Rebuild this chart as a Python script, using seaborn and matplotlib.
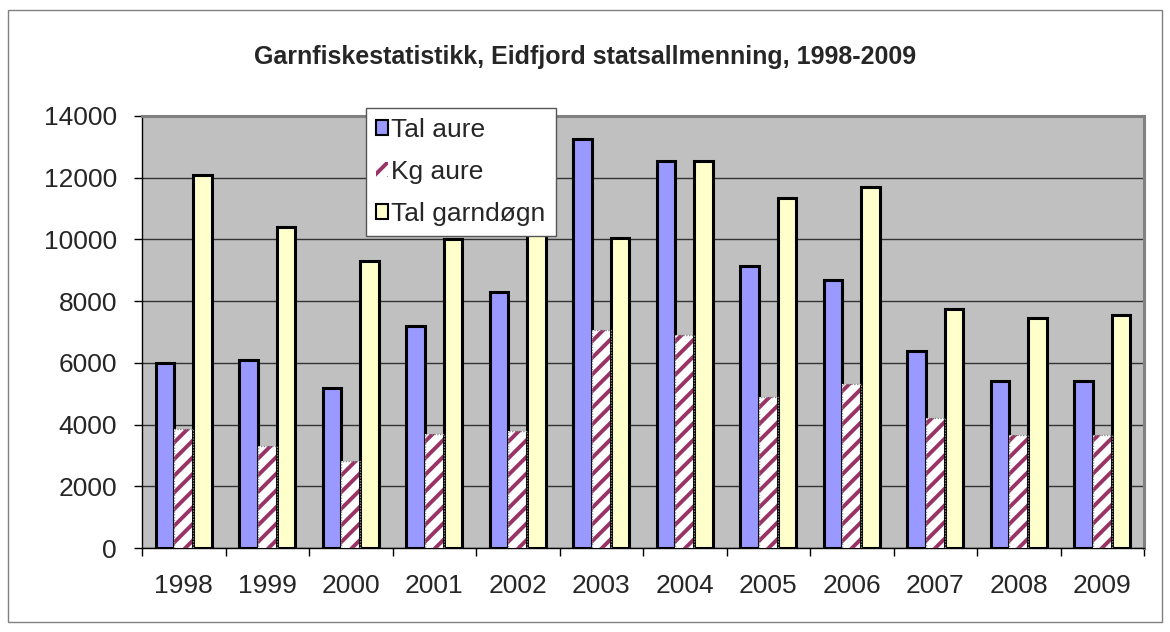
import matplotlib

matplotlib.use("Agg")
import matplotlib.pyplot as plt
import pandas as pd
import seaborn as sns
from matplotlib.patches import Rectangle
from matplotlib.ticker import FixedLocator, MultipleLocator

years = ["1998", "1999", "2000", "2001", "2002", "2003",
         "2004", "2005", "2006", "2007", "2008", "2009"]
tal_aure = [6000, 6100, 5200, 7200, 8300, 13250, 12550, 9150, 8700, 6400, 5400, 5400]
kg_aure = [3850, 3300, 2830, 3700, 3800, 7050, 6900, 4900, 5300, 4200, 3650, 3650]
tal_garndogn = [12100, 10400, 9300, 10000, 10300, 10050, 12550, 11350, 11700, 7750, 7450, 7550]
series = ["Tal aure", "Kg aure", "Tal garndøgn"]

data = pd.DataFrame({
    "year": years * 3,
    "value": tal_aure + kg_aure + tal_garndogn,
    "series": [series[0]] * 12 + [series[1]] * 12 + [series[2]] * 12,
})

sns.set_style("white")
plt.rcParams["font.family"] = ["Liberation Sans", "DejaVu Sans"]
plt.rcParams["hatch.linewidth"] = 2.8

fig = plt.figure(figsize=(11.7, 6.32), dpi=100)
ax = fig.add_axes([142 / 1170, 1 - 548 / 632, (1144 - 142) / 1170, (548 - 116) / 632])
ax.set_facecolor("#C0C0C0")

palette = {"Tal aure": "#9999FF", "Kg aure": "#FFFFFF", "Tal garndøgn": "#FFFFCC"}
sns.barplot(
    data=data, x="year", y="value", hue="series", palette=palette,
    width=0.67, gap=0, edgecolor="black", linewidth=2.2, saturation=1,
    legend=False, ax=ax, zorder=3,
)

# hatched middle series with dotted outline
for bar in ax.containers[1]:
    bar.set_hatch("//")
    bar.set_edgecolor("#993366")
    bar.set_linewidth(0)
    ax.add_patch(Rectangle(bar.get_xy(), bar.get_width(), bar.get_height(),
                           fill=False, edgecolor="#888888", linewidth=1,
                           linestyle=(0, (1, 1)), zorder=4))

ax.set_ylim(0, 14000)
ax.set_xlim(-0.5, len(years) - 0.5)
ax.yaxis.set_major_locator(MultipleLocator(2000))
ax.grid(axis="y", color="#333333", linewidth=1, zorder=0)
ax.set_axisbelow(True)
ax.set_xlabel("")
ax.set_ylabel("")
ax.tick_params(axis="y", labelsize=19, length=6, width=1, color="black",
               direction="out", left=True, pad=12)
ax.tick_params(axis="x", which="major", labelsize=19, length=0, pad=19)
ax.xaxis.set_minor_locator(FixedLocator([i - 0.5 for i in range(len(years) + 1)]))
ax.tick_params(axis="x", which="minor", length=6, width=1, color="black",
               direction="out", bottom=True)

for side in ["left", "bottom"]:
    ax.spines[side].set_color("black")
    ax.spines[side].set_linewidth(1)
for side in ["top", "right"]:
    ax.spines[side].set_color("#808080")
    ax.spines[side].set_linewidth(2.2)

handles = [
    Rectangle((0, 0), 1, 1, facecolor="#9999FF", edgecolor="black", linewidth=1.5),
    Rectangle((0, 0), 1, 1, facecolor="white", edgecolor="#993366", hatch="//",
              linewidth=0),
    Rectangle((0, 0), 1, 1, facecolor="#FFFFCC", edgecolor="black", linewidth=1.5),
]
leg = fig.legend(
    handles, series, loc="upper left",
    bbox_to_anchor=(366 / 1170, 1 - 108 / 632),
    fontsize=19, frameon=True, fancybox=False, edgecolor="#555555",
    framealpha=1, handlelength=0.46, handleheight=0.46, handletextpad=0.12,
    labelspacing=0.68, borderpad=0.38, borderaxespad=0,
)
leg.get_frame().set_linewidth(1)
leg.set_zorder(10)

fig.text(585 / 1170, 1 - 57 / 632, "Garnfiskestatistikk, Eidfjord statsallmenning, 1998-2009",
         ha="center", va="center", fontsize=18, fontweight="bold")

fig.patches.append(Rectangle((8 / 1170, 10 / 632), 1154 / 1170, 612 / 632,
                             transform=fig.transFigure, fill=False,
                             edgecolor="#808080", linewidth=1))

fig.savefig("out.png", dpi=100)
